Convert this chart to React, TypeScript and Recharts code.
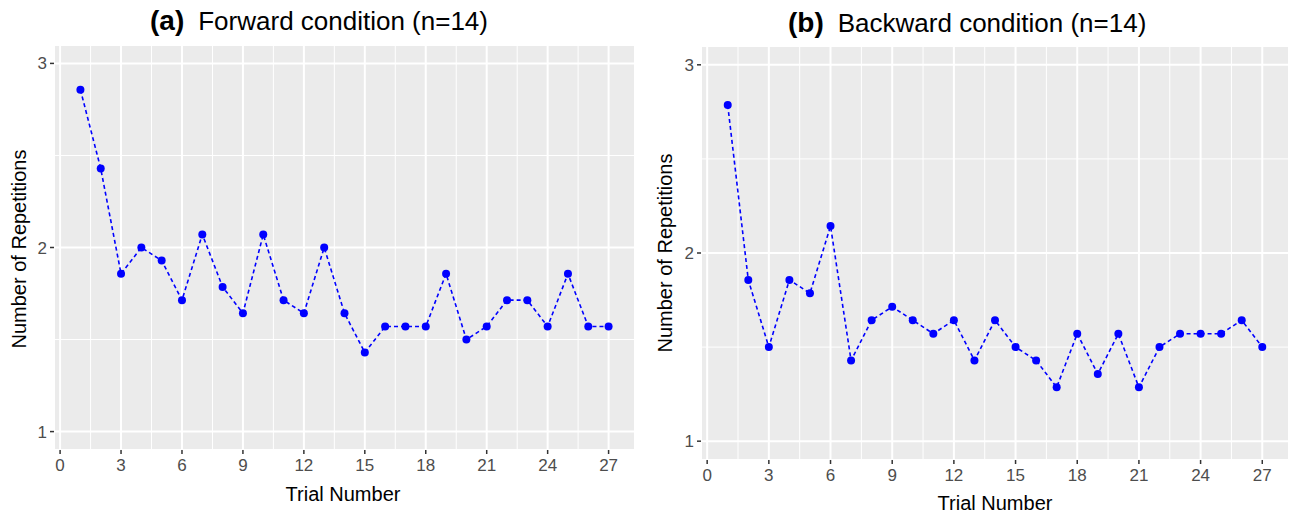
import { LineChart, Line, XAxis, YAxis, CartesianGrid } from 'recharts';

const trials = [1, 2, 3, 4, 5, 6, 7, 8, 9, 10, 11, 12, 13, 14, 15, 16, 17, 18, 19, 20, 21, 22, 23, 24, 25, 26, 27];

const forward = [
    2.857, 2.429, 1.857, 2.0, 1.929, 1.714, 2.071, 1.786, 1.643, 2.071, 1.714, 1.643, 2.0, 1.643,
    1.429, 1.571, 1.571, 1.571, 1.857, 1.5, 1.571, 1.714, 1.714, 1.571, 1.857, 1.571, 1.571
];

const backward = [
    2.786, 1.857, 1.5, 1.857, 1.786, 2.143, 1.429, 1.643, 1.714, 1.643, 1.571, 1.643, 1.429, 1.643,
    1.5, 1.429, 1.286, 1.571, 1.357, 1.571, 1.286, 1.5, 1.571, 1.571, 1.571, 1.643, 1.5
];

const xTicks = [0, 3, 6, 9, 12, 15, 18, 21, 24, 27];
const xMinor = [1.5, 4.5, 7.5, 10.5, 13.5, 16.5, 19.5, 22.5, 25.5];
const yTicks = [1, 2, 3];
const yMinor = [1.5, 2.5];

const xDomain = [-0.3, 28.3];
const yDomain = [0.9, 3.1];

const font = "'Liberation Sans', Arial, sans-serif";

const minorX = (props: any) => {
    const { xAxis, offset } = props;
    if (xAxis && typeof xAxis.scale === 'function') return xMinor.map((v) => xAxis.scale(v));
    return xMinor.map((v) => offset.left + ((v - xDomain[0]) / (xDomain[1] - xDomain[0])) * offset.width);
};

const minorY = (props: any) => {
    const { yAxis, offset } = props;
    if (yAxis && typeof yAxis.scale === 'function') return yMinor.map((v) => yAxis.scale(v));
    return yMinor.map((v) => offset.top + ((yDomain[1] - v) / (yDomain[1] - yDomain[0])) * offset.height);
};

type PanelProps = {
    values: number[];
    left: number;
    margin: { top: number; right: number; left: number; bottom: number };
    yAxisWidth: number;
    xAxisHeight: number;
};

const Panel = ({ values, left, margin, yAxisWidth, xAxisHeight }: PanelProps) => {
    const data = trials.map((t, i) => ({ trial: t, reps: values[i] }));
    return (
        <div style={{ position: 'absolute', left, top: 0 }}>
            <LineChart width={650} height={514} margin={margin} data={data}>
                <CartesianGrid
                    fill='#EBEBEB'
                    stroke='#FFFFFF'
                    strokeWidth={1}
                    verticalCoordinatesGenerator={minorX}
                    horizontalCoordinatesGenerator={minorY}
                />
                <CartesianGrid stroke='#FFFFFF' strokeWidth={2} />
                <XAxis
                    dataKey='trial'
                    type='number'
                    domain={xDomain}
                    ticks={xTicks}
                    allowDataOverflow
                    height={xAxisHeight}
                    axisLine={false}
                    tickLine={{ stroke: '#333333', strokeWidth: 1.5 }}
                    tickSize={4}
                    tickMargin={5}
                    tick={{ fill: '#4D4D4D', fontSize: 17, fontFamily: font }}
                />
                <YAxis
                    type='number'
                    domain={yDomain}
                    ticks={yTicks}
                    allowDataOverflow
                    width={yAxisWidth}
                    axisLine={false}
                    tickLine={{ stroke: '#333333', strokeWidth: 1.5 }}
                    tickSize={4}
                    tickMargin={3}
                    tick={{ fill: '#4D4D4D', fontSize: 17, fontFamily: font }}
                />
                <Line
                    type='linear'
                    dataKey='reps'
                    stroke='#0000FF'
                    strokeWidth={1.6}
                    strokeDasharray='4 3'
                    dot={{ r: 4, fill: '#0000FF', stroke: '#0000FF', strokeWidth: 0, strokeDasharray: '' }}
                    activeDot={false}
                    isAnimationActive={false}
                />
            </LineChart>
        </div>
    );
};

const Title = ({ x, y, tag, text }: { x: number; y: number; tag: string; text: string }) => (
    <div style={{ position: 'absolute', left: x, top: y, whiteSpace: 'nowrap', fontFamily: font, color: '#000' }}>
        <span style={{ fontWeight: 'bold', fontSize: 28 }}>{tag}</span>
        <span style={{ fontSize: 26, marginLeft: 14 }}>{text}</span>
    </div>
);

const AxisTitle = ({ x, y, text, rotate }: { x: number; y: number; text: string; rotate?: boolean }) => (
    <div
        style={{
            position: 'absolute',
            left: x,
            top: y,
            fontFamily: font,
            fontSize: 20,
            color: '#000',
            whiteSpace: 'nowrap',
            transform: `translate(-50%, -50%)${rotate ? ' rotate(-90deg)' : ''}`
        }}
    >
        {text}
    </div>
);

const App = () => {
    return (
        <div style={{ position: 'absolute', left: 0, top: 0, width: 1295, height: 514, background: '#fff', overflow: 'hidden' }}>
            <Panel values={forward} left={0} margin={{ top: 45, right: 15, left: 0, bottom: 0 }} yAxisWidth={54} xAxisHeight={64} />
            <Panel values={backward} left={645} margin={{ top: 46, right: 6, left: 0, bottom: 0 }} yAxisWidth={56} xAxisHeight={54} />
            <Title x={150} y={5} tag='(a)' text='Forward condition (n=14)' />
            <Title x={788} y={7} tag='(b)' text='Backward condition (n=14)' />
            <AxisTitle x={343} y={494} text='Trial Number' />
            <AxisTitle x={995} y={503} text='Trial Number' />
            <AxisTitle x={19} y={249} text='Number of Repetitions' rotate />
            <AxisTitle x={665} y={253} text='Number of Repetitions' rotate />
        </div>
    );
};

export default App;
